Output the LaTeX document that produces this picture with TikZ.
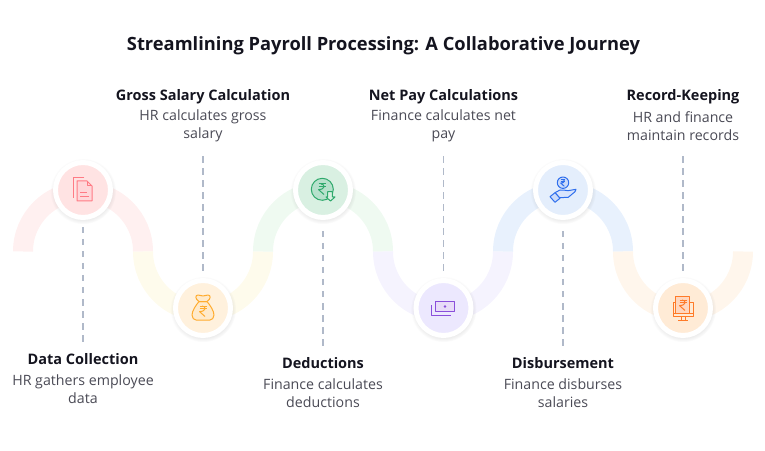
\documentclass[tikz,border=0pt]{standalone}
\usepackage{fontspec}
\setmainfont{Open Sans}
\usepackage{xcolor}
\usetikzlibrary{shadows}

\definecolor{inkdark}{HTML}{14141F}
\definecolor{inkgrey}{HTML}{4A4A55}
\definecolor{leadgrey}{HTML}{B0B9C9}
% wave tints
\definecolor{wavered}{HTML}{FFF0F0}
\definecolor{waveyellow}{HTML}{FEFBEC}
\definecolor{wavegreen}{HTML}{EFFAF1}
\definecolor{wavepurple}{HTML}{F5F3FE}
\definecolor{waveblue}{HTML}{E8F1FD}
\definecolor{waveorange}{HTML}{FFF6EC}
% discs
\definecolor{discred}{HTML}{FFE3E3}
\definecolor{discyellow}{HTML}{FFF1DD}
\definecolor{discgreen}{HTML}{D9F0E2}
\definecolor{discpurple}{HTML}{ECE8FE}
\definecolor{discblue}{HTML}{E4EEFC}
\definecolor{discorange}{HTML}{FFEBD6}
% icon strokes
\definecolor{iconred}{HTML}{FF7B85}
\definecolor{iconyellow}{HTML}{FFAC2F}
\definecolor{icongreen}{HTML}{2FA96C}
\definecolor{iconpurple}{HTML}{8A4FDB}
\definecolor{iconblue}{HTML}{2F6FED}
\definecolor{iconorange}{HTML}{FF7B29}

\tikzset{
    titletext/.style={font=\fontsize{18.3}{22}\selectfont\bfseries, text=inkdark, inner sep=0pt},
    headtext/.style={font=\fontsize{14.5}{18}\selectfont\bfseries, text=inkdark, inner sep=0pt},
    desctext/.style={font=\fontsize{14.2}{18}\selectfont, text=inkgrey, align=center, inner sep=0pt},
    wave/.style={line width=20pt},
    leader/.style={draw=leadgrey, line width=1.1pt, dash pattern=on 6.5pt off 5.5pt},
    stage/.style={circle, draw=white, line width=5pt, minimum size=55pt, inner sep=0pt, fill=#1,
        circular drop shadow={shadow xshift=0pt, shadow yshift=-1pt, shadow scale=1.2, opacity=.16}},
    icon/.style={draw=#1, line width=1pt, line join=round},
    rupee/.pic={
        \draw (-3.5,5) -- (3.5,5);
        \draw (-3.5,2.2) -- (3.5,2.2);
        \draw (-1,5) .. controls (3.4,5) and (3.4,-.6) .. (-3.5,-.6) -- (2,-5.5);
    }
}

\begin{document}
\begin{tikzpicture}[x=1pt, y=1pt]
    \useasboundingbox (0,0) rectangle (765,450);

    \node[titletext] (title) at (383.5,404) {Streamlining Payroll Processing: A Collaborative Journey};

    % wave, one colour per step
    \draw[wave, color=wavered] (23,198.5) arc[start angle=180, end angle=0, radius=60];
    \draw[wave, color=waveyellow] (143,198.5) arc[start angle=180, end angle=360, radius=60];
    \draw[wave, color=wavegreen] (263,198.5) arc[start angle=180, end angle=0, radius=60];
    \draw[wave, color=wavepurple] (383,198.5) arc[start angle=180, end angle=360, radius=60];
    \draw[wave, color=waveblue] (503,198.5) arc[start angle=180, end angle=0, radius=60];
    \draw[wave, color=waveorange] (623,198.5) arc[start angle=180, end angle=360, radius=60];

    % steps
    \node[stage=discred] (collect) at (83,260) {};
    \node[stage=discyellow] (gross) at (203,142) {};
    \node[stage=discgreen] (deduct) at (323,260) {};
    \node[stage=discpurple] (netpay) at (443.5,142) {};
    \node[stage=discblue] (disburse) at (563,260) {};
    \node[stage=discorange] (records) at (683,142) {};

    % texts
    \node[headtext] (collecthead) at (83,90.5) {Data Collection};
    \node[desctext] (collectdesc) at (83,61) {HR gathers employee\\data};
    \node[headtext] (grosshead) at (203,353) {Gross Salary Calculation};
    \node[desctext] (grossdesc) at (203,324) {HR calculates gross\\salary};
    \node[headtext] (deducthead) at (323,86.5) {Deductions};
    \node[desctext] (deductdesc) at (323,57) {Finance calculates\\deductions};
    \node[headtext] (netpayhead) at (443.5,353) {Net Pay Calculations};
    \node[desctext] (netpaydesc) at (443.5,324) {Finance calculates net\\pay};
    \node[headtext] (disbursehead) at (563,86.5) {Disbursement};
    \node[desctext] (disbursedesc) at (563,57) {Finance disburses\\salaries};
    \node[headtext] (recordshead) at (683,353) {Record-Keeping};
    \node[desctext] (recordsdesc) at (683,324) {HR and finance\\maintain records};

    % leaders
    \draw[leader, shorten <=7pt, shorten >=9pt] (collect.south) -- (collecthead.north);
    \draw[leader, shorten <=11pt, shorten >=9pt] (deduct.south) -- (deducthead.north);
    \draw[leader, shorten <=11pt, shorten >=9pt] (disburse.south) -- (disbursehead.north);
    \draw[leader, shorten <=7pt, shorten >=11pt] (gross.north) -- (grossdesc.south);
    \draw[leader, shorten <=7pt, shorten >=11pt] (netpay.north) -- (netpaydesc.south);
    \draw[leader, shorten <=7pt, shorten >=11pt] (records.north) -- (recordsdesc.south);

    % document icon
    \begin{scope}[shift={(collect.center)}, icon=iconred]
        \draw (1.3,12) -- (-9.3,12) -- (-9.3,-8);
        \draw[fill=iconred!30] (-6,9) -- (4,9) -- (9,4) -- (9,-11) -- (-6,-11) -- cycle;
        \draw (4,9) -- (4,4) -- (9,4);
        \draw (-3,-3) -- (4,-3);
        \draw (-3,-6.5) -- (6,-6.5);
    \end{scope}

    % money bag icon
    \begin{scope}[shift={(gross.center)}, icon=iconyellow]
        \draw[fill=iconyellow!25] (-4,6.5) .. controls (-7,3) and (-11,-3) .. (-11,-7) .. controls (-11,-10) and (-9,-12) .. (-7,-12) -- (7,-12) .. controls (9,-12) and (11,-10) .. (11,-7) .. controls (11,-3) and (7,3) .. (4,6.5) -- cycle;
        \draw[fill=iconyellow!25] (-4,6.5) .. controls (-8,9) and (-8,13) .. (-5,13) .. controls (-3,13) and (-2,12) .. (0,12) .. controls (2,12) and (3,13) .. (5,13) .. controls (8,13) and (8,9) .. (4,6.5) -- cycle;
        \pic at (0,-3) {rupee};
    \end{scope}

    % rupee with down arrow icon
    \begin{scope}[shift={(deduct.center)}, icon=icongreen]
        \draw[fill=icongreen!35] (-.7,.7) circle[radius=11];
        \pic at (-1,1) {rupee};
        \draw[fill=discgreen] (4.7,-1.7) -- (9.3,-1.7) -- (9.3,-7) -- (12,-7) -- (7.5,-11) -- (3,-7) -- (4.7,-7) -- cycle;
    \end{scope}

    % banknote icon
    \begin{scope}[shift={(netpay.center)}, icon=iconpurple]
        \draw[fill=iconpurple!20] (-8.5,-3.7) rectangle (11.2,6.3);
        \fill[iconpurple] (1.5,1.5) circle[radius=1.3];
        \draw (-12.2,3) -- (-12.2,-7.3) -- (7.2,-7.3);
    \end{scope}

    % hand with coin icon
    \begin{scope}[shift={(disburse.center)}, icon=iconblue]
        \draw[fill=iconblue!25] (0,7.3) circle[radius=5.7];
        \pic[scale=.65] at (0,7.3) {rupee};
        \draw[fill=iconblue!18] (-8,-2.7) -- (-3,0) .. controls (0,.5) and (3,-.7) .. (5,-.7) -- (13,.7) -- (12,-1.7) -- (5.3,-7.3) -- (-3.7,-7.7) -- cycle;
        \draw[fill=iconblue!25] (-13,-6.7) -- (-8,-2.7) -- (-3,-8.3) -- (-8,-12.3) -- cycle;
    \end{scope}

    % monitor with invoice icon
    \begin{scope}[shift={(records.center)}, icon=iconorange]
        \draw (-9.7,-8.7) rectangle (10.3,5.7);
        \draw (-9.7,-5.3) -- (10.3,-5.3);
        \draw (-2,-8.7) -- (-2,-12);
        \draw (2,-8.7) -- (2,-12);
        \draw (-5,-12) -- (5,-12);
        \draw[fill=iconorange!30] (-7.3,-5.3) -- (-7.3,11.3) -- (6,11.3) -- (6,-5.3);
        \pic at (0,3) {rupee};
    \end{scope}
\end{tikzpicture}
\end{document}
